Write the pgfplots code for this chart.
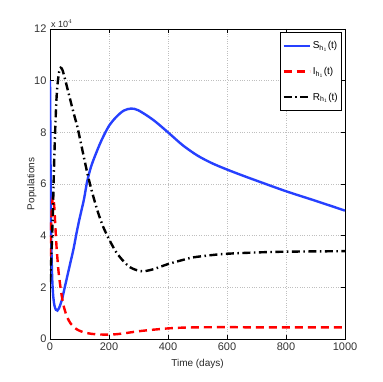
\documentclass[border=0pt]{standalone}
\usepackage{pgfplots}
\pgfplotsset{compat=1.18}
\usepackage{fontspec}
\setmainfont{Liberation Sans}
\definecolor{mblue}{RGB}{38,64,255}
\begin{document}
\begin{tikzpicture}[x=1pt,y=1pt]
\begin{axis}[
  scale only axis,
  width=295pt, height=310pt,
  xmin=0, xmax=1000, ymin=0, ymax=12,
  xtick={0,200,...,1000}, ytick={0,2,...,12},
  tick align=inside, tick pos=both,
  major tick length=4pt,
  grid=major,
  major grid style={gray!50, dotted, line width=0.5pt},
  axis line style={line width=0.6pt},
  tick style={black, line width=0.5pt},
  /pgf/number format/assume math mode=true,
  /pgf/number format/1000 sep={},
  ticklabel style={font=\fontsize{11}{13}\selectfont, text=black!80},
  xlabel={Time (days)}, ylabel={Populations},
  label style={font=\fontsize{10}{12}\selectfont, text=black!85},
  xlabel style={yshift=-2pt},
  ylabel style={yshift=-9pt},
  legend style={at={(0.99,0.99)}, anchor=north east, draw=black, line width=0.6pt,
    font=\fontsize{10}{12}\selectfont, row sep=13pt, inner xsep=2pt, inner ysep=7pt, cells={anchor=west}},
  legend image code/.code={\draw[#1] (0pt,0pt) -- (26pt,0pt);},
  clip mode=individual,
]
\addplot[mblue, line width=2.4pt, smooth] coordinates {
(0,10) (1,8.5) (2,6.5) (3,5) (4,4) (6,2.9) (8,2.2) (11,1.65) (15,1.3) (20,1.13) (25,1.1) (30,1.18) (40,1.5) (50,2.0) (60,2.5) (70,3.0) (80,3.5) (90,4.1) (100,4.65) (115,5.4) (126,6.1) (140,6.7) (160,7.3) (177,7.75) (200,8.25) (225,8.6) (250,8.84) (275,8.92) (300,8.85) (350,8.48) (400,8.0) (450,7.5) (500,7.1) (550,6.8) (600,6.56) (650,6.34) (700,6.13) (800,5.72) (900,5.35) (1000,4.97)};
\addlegendentry{S$_{\mathrm{h}_1}$(t)}
\addplot[red, line width=2.4pt, dash pattern=on 8pt off 5pt, smooth] coordinates {
(0,3.2) (3,4.2) (6,5.0) (10,5.5) (14,5.2) (18,4.4) (22,3.6) (26,3.0) (30,2.5) (38,1.8) (47,1.25) (58,0.85) (70,0.6) (85,0.42) (100,0.32) (115,0.26) (140,0.2) (183,0.17) (220,0.18) (251,0.22) (300,0.3) (350,0.36) (400,0.41) (450,0.44) (500,0.45) (600,0.46) (700,0.45) (1000,0.45)};
\addlegendentry{I$_{\mathrm{h}_1}$(t)}
\addplot[black, line width=2.4pt, dash pattern=on 8pt off 3.5pt on 1.5pt off 3.5pt, smooth] coordinates {
(0,2.2) (3,2.8) (6,3.6) (10,5) (14,6.8) (18,8.2) (22,9.3) (26,9.9) (31,10.35) (36,10.5) (42,10.42) (50,10.1) (60,9.65) (70,9.2) (80,8.75) (93,8.2) (110,7.3) (126,6.45) (140,5.8) (160,5.0) (180,4.35) (203,3.8) (225,3.35) (250,3.0) (271,2.78) (295,2.66) (316,2.62) (350,2.7) (400,2.9) (450,3.06) (486,3.16) (550,3.25) (600,3.3) (700,3.35) (800,3.38) (1000,3.4)};
\addlegendentry{R$_{\mathrm{h}_1}$(t)}
\node[anchor=south west, font=\fontsize{9}{10}\selectfont, text=black!85, inner sep=1pt] at (rel axis cs:0,1) {x 10$^4$};
\coordinate (LL) at (rel axis cs:0,0);
\coordinate (UR) at (rel axis cs:1,1);
\end{axis}
\path[use as bounding box] ([xshift=-50pt,yshift=-43pt]LL) rectangle ([xshift=37pt,yshift=29pt]UR);
\end{tikzpicture}
\end{document}
